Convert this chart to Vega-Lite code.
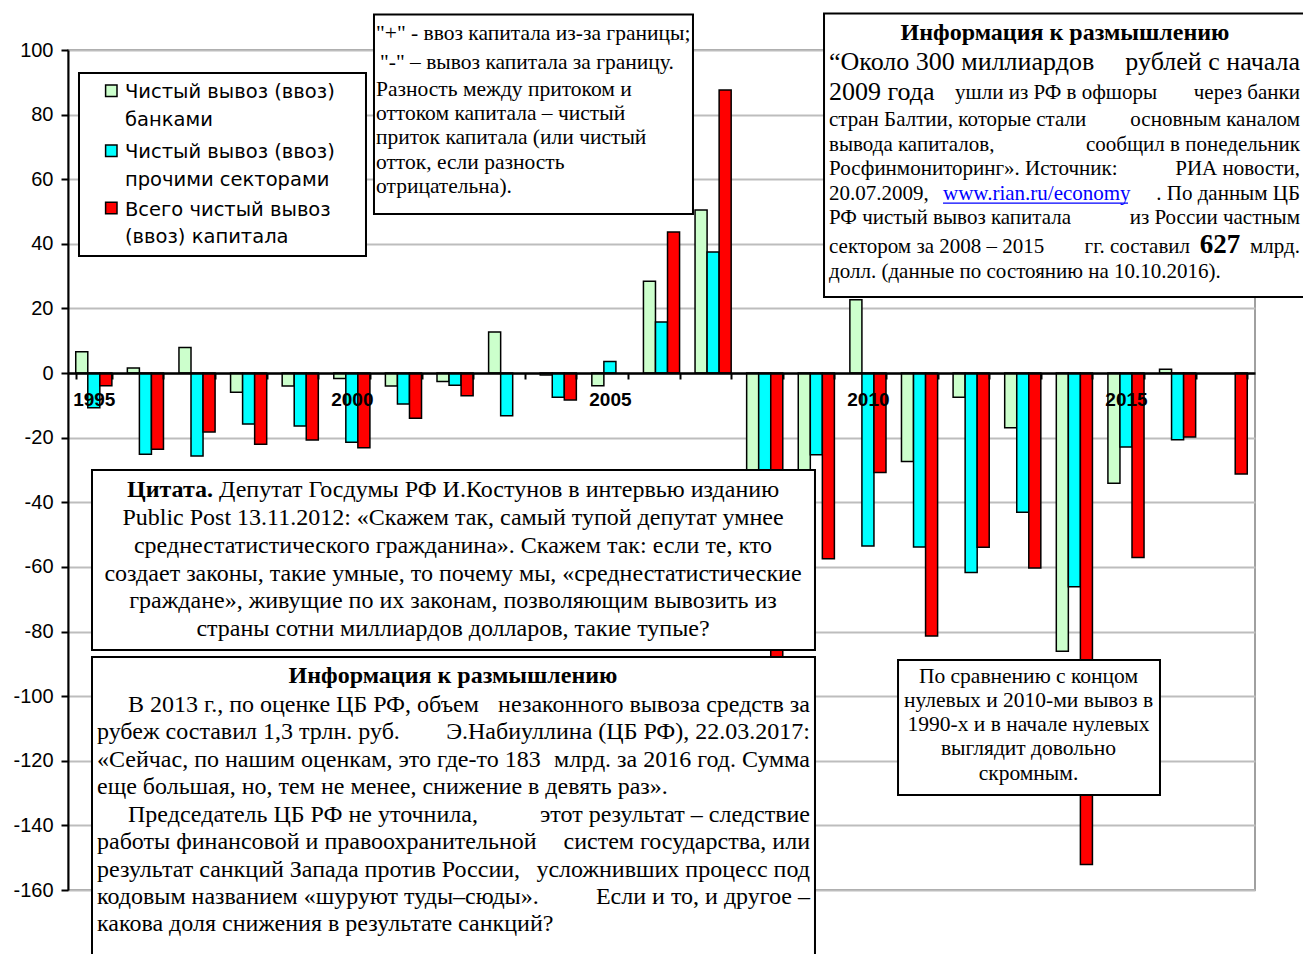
{
  "$schema": "https://vega.github.io/schema/vega-lite/v6.json",
  "width": 1187,
  "height": 840,
  "autosize": {"type": "none"},
  "padding": {"left": 68, "top": 50, "right": 48, "bottom": 64},
  "background": "white",
  "config": {"view": {"stroke": "#a0a0a0", "strokeWidth": 2}},
  "layer": [
    {
      "data": {"values": [
        {"year": 1995, "series": "banks", "value": 6.6}, {"year": 1995, "series": "others", "value": -10.7}, {"year": 1995, "series": "total", "value": -3.9},
        {"year": 1996, "series": "banks", "value": 1.6}, {"year": 1996, "series": "others", "value": -25.1}, {"year": 1996, "series": "total", "value": -23.6},
        {"year": 1997, "series": "banks", "value": 7.9}, {"year": 1997, "series": "others", "value": -25.7}, {"year": 1997, "series": "total", "value": -18.2},
        {"year": 1998, "series": "banks", "value": -5.9}, {"year": 1998, "series": "others", "value": -15.8}, {"year": 1998, "series": "total", "value": -22.0},
        {"year": 1999, "series": "banks", "value": -4.0}, {"year": 1999, "series": "others", "value": -16.4}, {"year": 1999, "series": "total", "value": -20.7},
        {"year": 2000, "series": "banks", "value": -1.7}, {"year": 2000, "series": "others", "value": -21.4}, {"year": 2000, "series": "total", "value": -23.1},
        {"year": 2001, "series": "banks", "value": -4.0}, {"year": 2001, "series": "others", "value": -9.6}, {"year": 2001, "series": "total", "value": -14.0},
        {"year": 2002, "series": "banks", "value": -2.6}, {"year": 2002, "series": "others", "value": -3.8}, {"year": 2002, "series": "total", "value": -7.0},
        {"year": 2003, "series": "banks", "value": 12.7}, {"year": 2003, "series": "others", "value": -13.2},
        {"year": 2004, "series": "banks", "value": -0.6}, {"year": 2004, "series": "others", "value": -7.5}, {"year": 2004, "series": "total", "value": -8.3},
        {"year": 2005, "series": "banks", "value": -3.9}, {"year": 2005, "series": "others", "value": 3.6},
        {"year": 2006, "series": "banks", "value": 28.4}, {"year": 2006, "series": "others", "value": 15.8}, {"year": 2006, "series": "total", "value": 43.7},
        {"year": 2007, "series": "banks", "value": 50.5}, {"year": 2007, "series": "others", "value": 37.5}, {"year": 2007, "series": "total", "value": 87.6},
        {"year": 2008, "series": "banks", "value": -57.0}, {"year": 2008, "series": "others", "value": -77.0}, {"year": 2008, "series": "total", "value": -133.6},
        {"year": 2009, "series": "banks", "value": -32.2}, {"year": 2009, "series": "others", "value": -25.3}, {"year": 2009, "series": "total", "value": -57.5},
        {"year": 2010, "series": "banks", "value": 22.7}, {"year": 2010, "series": "others", "value": -53.5}, {"year": 2010, "series": "total", "value": -30.8},
        {"year": 2011, "series": "banks", "value": -27.4}, {"year": 2011, "series": "others", "value": -53.8}, {"year": 2011, "series": "total", "value": -81.4},
        {"year": 2012, "series": "banks", "value": -7.5}, {"year": 2012, "series": "others", "value": -61.7}, {"year": 2012, "series": "total", "value": -53.9},
        {"year": 2013, "series": "banks", "value": -16.9}, {"year": 2013, "series": "others", "value": -43.1}, {"year": 2013, "series": "total", "value": -60.3},
        {"year": 2014, "series": "banks", "value": -86.1}, {"year": 2014, "series": "others", "value": -66.1}, {"year": 2014, "series": "total", "value": -152.1},
        {"year": 2015, "series": "banks", "value": -34.1}, {"year": 2015, "series": "others", "value": -22.9}, {"year": 2015, "series": "total", "value": -57.1},
        {"year": 2016, "series": "banks", "value": 1.2}, {"year": 2016, "series": "others", "value": -20.6}, {"year": 2016, "series": "total", "value": -19.8},
        {"year": 2017, "series": "total", "value": -31.2}
      ]},
      "mark": {"type": "bar", "stroke": "black", "strokeWidth": 1.5},
      "encoding": {
        "x": {"field": "year", "type": "ordinal", "scale": {"paddingInner": 0.3, "paddingOuter": 0.15},
          "axis": {"orient": "bottom", "offset": -517, "title": null, "grid": false, "domainColor": "black", "domainWidth": 2.5,
            "tickColor": "black", "tickWidth": 2, "tickSize": 6, "tickBand": "extent",
            "labelFont": "Liberation Sans", "labelFontWeight": "bold", "labelFontSize": 19, "labelColor": "black",
            "labelPadding": 11, "labelAngle": 0, "labelOverlap": false,
            "labelExpr": "datum.value % 5 == 0 ? '' + datum.value : ''", "zindex": 1}},
        "xOffset": {"field": "series", "type": "nominal", "scale": {"domain": ["banks", "others", "total"], "paddingInner": 0, "paddingOuter": 0}},
        "y": {"field": "value", "type": "quantitative", "scale": {"domain": [-160, 100], "nice": false},
          "axis": {"title": null, "values": [-160, -150, -140, -130, -120, -110, -100, -90, -80, -70, -60, -50, -40, -30, -20, -10, 0, 10, 20, 30, 40, 50, 60, 70, 80, 90, 100],
            "labelExpr": "datum.value % 20 == 0 ? '' + datum.value : ''",
            "grid": true, "gridColor": "#bdbdbd", "gridWidth": 2,
            "domainColor": "black", "domainWidth": 2, "tickColor": "black", "tickWidth": 2, "tickSize": 7,
            "labelFont": "Liberation Sans", "labelFontSize": 20, "labelColor": "black", "labelPadding": 8}},
        "color": {"field": "series", "type": "nominal", "scale": {"domain": ["banks", "others", "total"], "range": ["#ccffcc", "#00ffff", "#ff0000"]}, "legend": null}
      }
    },
    {
      "data": {"values": [{}]},
      "layer": [
        {"mark": {"type": "rect", "fill": "white", "stroke": "black", "strokeWidth": 2},
         "encoding": {"x": {"datum": 1994.713, "type": "quantitative", "scale": {"domain": [1994.5, 2017.5], "nice": false, "zero": false}, "axis": null},
           "x2": {"datum": 2000.274}, "y": {"datum": 92.88, "type": "quantitative", "scale": {"domain": [-160, 100], "nice": false}, "title": null}, "y2": {"datum": 36.24}}},
        {"mark": {"type": "point", "shape": "square", "filled": true, "fill": "#ccffcc", "stroke": "black", "strokeWidth": 1.5, "size": 130, "opacity": 1},
         "encoding": {"x": {"datum": 1995.339, "type": "quantitative", "scale": {"domain": [1994.5, 2017.5], "nice": false, "zero": false}, "axis": null},
           "y": {"datum": 87.37, "type": "quantitative", "scale": {"domain": [-160, 100], "nice": false}, "title": null}}},
        {"mark": {"type": "point", "shape": "square", "filled": true, "fill": "#00ffff", "stroke": "black", "strokeWidth": 1.5, "size": 130, "opacity": 1},
         "encoding": {"x": {"datum": 1995.339, "type": "quantitative", "scale": {"domain": [1994.5, 2017.5], "nice": false, "zero": false}, "axis": null},
           "y": {"datum": 68.80, "type": "quantitative", "scale": {"domain": [-160, 100], "nice": false}, "title": null}}},
        {"mark": {"type": "point", "shape": "square", "filled": true, "fill": "#ff0000", "stroke": "black", "strokeWidth": 1.5, "size": 130, "opacity": 1},
         "encoding": {"x": {"datum": 1995.339, "type": "quantitative", "scale": {"domain": [1994.5, 2017.5], "nice": false, "zero": false}, "axis": null},
           "y": {"datum": 51.10, "type": "quantitative", "scale": {"domain": [-160, 100], "nice": false}, "title": null}}},
        {"mark": {"type": "text", "text": ["Чистый вывоз (ввоз)", "банками"],
           "font": "DejaVu Sans", "fontSize": 19.5, "lineHeight": 28.5, "align": "left", "baseline": "middle", "color": "black"},
         "encoding": {"x": {"datum": 1995.604, "type": "quantitative", "scale": {"domain": [1994.5, 2017.5], "nice": false, "zero": false}, "axis": null},
           "y": {"datum": 87.09, "type": "quantitative", "scale": {"domain": [-160, 100], "nice": false}, "title": null}}},
        {"mark": {"type": "text", "text": ["Чистый вывоз (ввоз)", "прочими секторами"],
           "font": "DejaVu Sans", "fontSize": 19.5, "lineHeight": 28.5, "align": "left", "baseline": "middle", "color": "black"},
         "encoding": {"x": {"datum": 1995.604, "type": "quantitative", "scale": {"domain": [1994.5, 2017.5], "nice": false, "zero": false}, "axis": null},
           "y": {"datum": 68.52, "type": "quantitative", "scale": {"domain": [-160, 100], "nice": false}, "title": null}}},
        {"mark": {"type": "text", "text": ["Всего чистый вывоз", "(ввоз) капитала"],
           "font": "DejaVu Sans", "fontSize": 19.5, "lineHeight": 27.5, "align": "left", "baseline": "middle", "color": "black"},
         "encoding": {"x": {"datum": 1995.604, "type": "quantitative", "scale": {"domain": [1994.5, 2017.5], "nice": false, "zero": false}, "axis": null},
           "y": {"datum": 50.48, "type": "quantitative", "scale": {"domain": [-160, 100], "nice": false}, "title": null}}},

        {"mark": {"type": "rect", "fill": "white", "stroke": "black", "strokeWidth": 2},
         "encoding": {"x": {"datum": 2000.429, "type": "quantitative", "scale": {"domain": [1994.5, 2017.5], "nice": false, "zero": false}, "axis": null},
           "x2": {"datum": 2006.610}, "y": {"datum": 110.99, "type": "quantitative", "scale": {"domain": [-160, 100], "nice": false}, "title": null}, "y2": {"datum": 49.24}}},
        {"mark": {"type": "text", "text": "\"+\" - ввоз капитала из-за границы;",
           "font": "Liberation Serif", "fontSize": 21.5, "align": "left", "baseline": "middle", "color": "black"},
         "encoding": {"x": {"datum": 2000.468, "type": "quantitative", "scale": {"domain": [1994.5, 2017.5], "nice": false, "zero": false}, "axis": null},
           "y": {"datum": 104.95, "type": "quantitative", "scale": {"domain": [-160, 100], "nice": false}, "title": null}}},
        {"mark": {"type": "text", "text": "\"-\" – вывоз капитала за границу.",
           "font": "Liberation Serif", "fontSize": 21.5, "align": "left", "baseline": "middle", "color": "black"},
         "encoding": {"x": {"datum": 2000.545, "type": "quantitative", "scale": {"domain": [1994.5, 2017.5], "nice": false, "zero": false}, "axis": null},
           "y": {"datum": 95.98, "type": "quantitative", "scale": {"domain": [-160, 100], "nice": false}, "title": null}}},
        {"mark": {"type": "text", "text": ["Разность между притоком и", "оттоком капитала – чистый", "приток капитала (или чистый", "отток, если разность", "отрицательна)."],
           "font": "Liberation Serif", "fontSize": 21.5, "lineHeight": 24.1, "align": "left", "baseline": "middle", "color": "black"},
         "encoding": {"x": {"datum": 2000.468, "type": "quantitative", "scale": {"domain": [1994.5, 2017.5], "nice": false, "zero": false}, "axis": null},
           "y": {"datum": 87.53, "type": "quantitative", "scale": {"domain": [-160, 100], "nice": false}, "title": null}}},

        {"mark": {"type": "rect", "fill": "white", "stroke": "black", "strokeWidth": 2},
         "encoding": {"x": {"datum": 2009.149, "type": "quantitative", "scale": {"domain": [1994.5, 2017.5], "nice": false, "zero": false}, "axis": null},
           "x2": {"datum": 2018.566}, "y": {"datum": 111.30, "type": "quantitative", "scale": {"domain": [-160, 100], "nice": false}, "title": null}, "y2": {"datum": 23.55}}},
        {"mark": {"type": "text", "text": "Информация к размышлению", "font": "Liberation Serif", "fontSize": 24, "fontWeight": "bold", "align": "center", "baseline": "middle", "color": "black"},
         "encoding": {"x": {"datum": 2013.818, "type": "quantitative", "scale": {"domain": [1994.5, 2017.5], "nice": false, "zero": false}, "axis": null},
           "y": {"datum": 105.35, "type": "quantitative", "scale": {"domain": [-160, 100], "nice": false}, "title": null}}},
        {"mark": {"type": "text", "text": "“Около 300 миллиардов", "font": "Liberation Serif", "fontSize": 26, "align": "left", "baseline": "middle", "color": "black"},
         "encoding": {"x": {"datum": 2009.246, "type": "quantitative", "scale": {"domain": [1994.5, 2017.5], "nice": false, "zero": false}, "axis": null},
           "y": {"datum": 96.38, "type": "quantitative", "scale": {"domain": [-160, 100], "nice": false}, "title": null}}},
        {"mark": {"type": "text", "text": "рублей с начала", "font": "Liberation Serif", "fontSize": 26, "align": "right", "baseline": "middle", "color": "black"},
         "encoding": {"x": {"datum": 2018.372, "type": "quantitative", "scale": {"domain": [1994.5, 2017.5], "nice": false, "zero": false}, "axis": null},
           "y": {"datum": 96.38, "type": "quantitative", "scale": {"domain": [-160, 100], "nice": false}, "title": null}}},
        {"mark": {"type": "text", "text": "2009 года", "font": "Liberation Serif", "fontSize": 26, "align": "left", "baseline": "middle", "color": "black"},
         "encoding": {"x": {"datum": 2009.246, "type": "quantitative", "scale": {"domain": [1994.5, 2017.5], "nice": false, "zero": false}, "axis": null},
           "y": {"datum": 87.09, "type": "quantitative", "scale": {"domain": [-160, 100], "nice": false}, "title": null}}},
        {"mark": {"type": "text", "text": "ушли из РФ в офшоры", "font": "Liberation Serif", "fontSize": 21, "align": "left", "baseline": "middle", "color": "black"},
         "encoding": {"x": {"datum": 2011.687, "type": "quantitative", "scale": {"domain": [1994.5, 2017.5], "nice": false, "zero": false}, "axis": null},
           "y": {"datum": 86.6, "type": "quantitative", "scale": {"domain": [-160, 100], "nice": false}, "title": null}}},
        {"mark": {"type": "text", "text": "через банки", "font": "Liberation Serif", "fontSize": 21, "align": "right", "baseline": "middle", "color": "black"},
         "encoding": {"x": {"datum": 2018.372, "type": "quantitative", "scale": {"domain": [1994.5, 2017.5], "nice": false, "zero": false}, "axis": null},
           "y": {"datum": 86.6, "type": "quantitative", "scale": {"domain": [-160, 100], "nice": false}, "title": null}}},
        {"mark": {"type": "text", "text": ["стран Балтии, которые стали", "вывода капиталов,", "Росфинмониторинг». Источник:", "20.07.2009,", "РФ чистый вывоз капитала"],
           "font": "Liberation Serif", "fontSize": 21, "lineHeight": 24.6, "align": "left", "baseline": "middle", "color": "black"},
         "encoding": {"x": {"datum": 2009.246, "type": "quantitative", "scale": {"domain": [1994.5, 2017.5], "nice": false, "zero": false}, "axis": null},
           "y": {"datum": 78.33, "type": "quantitative", "scale": {"domain": [-160, 100], "nice": false}, "title": null}}},
        {"mark": {"type": "text", "text": ["основным каналом", "сообщил в понедельник", "РИА новости,", ". По данным ЦБ", "из России частным"],
           "font": "Liberation Serif", "fontSize": 21, "lineHeight": 24.6, "align": "right", "baseline": "middle", "color": "black"},
         "encoding": {"x": {"datum": 2018.372, "type": "quantitative", "scale": {"domain": [1994.5, 2017.5], "nice": false, "zero": false}, "axis": null},
           "y": {"datum": 78.33, "type": "quantitative", "scale": {"domain": [-160, 100], "nice": false}, "title": null}}},
        {"mark": {"type": "text", "text": "www.rian.ru/economy", "font": "Liberation Serif", "fontSize": 21, "align": "left", "baseline": "middle", "color": "#0000ff"},
         "encoding": {"x": {"datum": 2011.455, "type": "quantitative", "scale": {"domain": [1994.5, 2017.5], "nice": false, "zero": false}, "axis": null},
           "y": {"datum": 55.49, "type": "quantitative", "scale": {"domain": [-160, 100], "nice": false}, "title": null}}},
        {"mark": {"type": "rule", "color": "#0000ff", "strokeWidth": 1.3},
         "encoding": {"x": {"datum": 2011.455, "type": "quantitative", "scale": {"domain": [1994.5, 2017.5], "nice": false, "zero": false}, "axis": null},
           "x2": {"datum": 2015.040}, "y": {"datum": 52.6, "type": "quantitative", "scale": {"domain": [-160, 100], "nice": false}, "title": null}}},
        {"mark": {"type": "text", "text": "сектором за 2008 – 2015", "font": "Liberation Serif", "fontSize": 21, "align": "left", "baseline": "middle", "color": "black"},
         "encoding": {"x": {"datum": 2009.246, "type": "quantitative", "scale": {"domain": [1994.5, 2017.5], "nice": false, "zero": false}, "axis": null},
           "y": {"datum": 39.12, "type": "quantitative", "scale": {"domain": [-160, 100], "nice": false}, "title": null}}},
        {"mark": {"type": "text", "text": "гг. составил", "font": "Liberation Serif", "fontSize": 21, "align": "right", "baseline": "middle", "color": "black"},
         "encoding": {"x": {"datum": 2016.241, "type": "quantitative", "scale": {"domain": [1994.5, 2017.5], "nice": false, "zero": false}, "axis": null},
           "y": {"datum": 39.12, "type": "quantitative", "scale": {"domain": [-160, 100], "nice": false}, "title": null}}},
        {"mark": {"type": "text", "text": "627", "font": "Liberation Serif", "fontSize": 27, "fontWeight": "bold", "align": "center", "baseline": "middle", "color": "black"},
         "encoding": {"x": {"datum": 2016.822, "type": "quantitative", "scale": {"domain": [1994.5, 2017.5], "nice": false, "zero": false}, "axis": null},
           "y": {"datum": 39.6, "type": "quantitative", "scale": {"domain": [-160, 100], "nice": false}, "title": null}}},
        {"mark": {"type": "text", "text": "млрд.", "font": "Liberation Serif", "fontSize": 21, "align": "right", "baseline": "middle", "color": "black"},
         "encoding": {"x": {"datum": 2018.372, "type": "quantitative", "scale": {"domain": [1994.5, 2017.5], "nice": false, "zero": false}, "axis": null},
           "y": {"datum": 39.12, "type": "quantitative", "scale": {"domain": [-160, 100], "nice": false}, "title": null}}},
        {"mark": {"type": "text", "text": "долл. (данные по состоянию на 10.10.2016).", "font": "Liberation Serif", "fontSize": 21, "align": "left", "baseline": "middle", "color": "black"},
         "encoding": {"x": {"datum": 2009.246, "type": "quantitative", "scale": {"domain": [1994.5, 2017.5], "nice": false, "zero": false}, "axis": null},
           "y": {"datum": 31.38, "type": "quantitative", "scale": {"domain": [-160, 100], "nice": false}, "title": null}}},

        {"mark": {"type": "rect", "fill": "white", "stroke": "black", "strokeWidth": 2},
         "encoding": {"x": {"datum": 1994.965, "type": "quantitative", "scale": {"domain": [1994.5, 2017.5], "nice": false, "zero": false}, "axis": null},
           "x2": {"datum": 2008.974}, "y": {"datum": -30.0, "type": "quantitative", "scale": {"domain": [-160, 100], "nice": false}, "title": null}, "y2": {"datum": -85.71}}},
        {"mark": {"type": "text", "text": "Цитата.", "font": "Liberation Serif", "fontSize": 24, "fontWeight": "bold", "align": "left", "baseline": "middle", "color": "black"},
         "encoding": {"x": {"datum": 1995.643, "type": "quantitative", "scale": {"domain": [1994.5, 2017.5], "nice": false, "zero": false}, "axis": null},
           "y": {"datum": -36.19, "type": "quantitative", "scale": {"domain": [-160, 100], "nice": false}, "title": null}}},
        {"mark": {"type": "text", "text": "Депутат Госдумы РФ И.Костунов в интервью изданию", "font": "Liberation Serif", "fontSize": 24, "align": "left", "baseline": "middle", "color": "black"},
         "encoding": {"x": {"datum": 1997.426, "type": "quantitative", "scale": {"domain": [1994.5, 2017.5], "nice": false, "zero": false}, "axis": null},
           "y": {"datum": -36.19, "type": "quantitative", "scale": {"domain": [-160, 100], "nice": false}, "title": null}}},
        {"mark": {"type": "text", "text": ["Public Post 13.11.2012: «Скажем так, самый тупой депутат умнее", "среднестатистического гражданина». Скажем так: если те, кто", "создает законы, такие умные, то почему мы, «среднестатистические", "граждане», живущие по их законам, позволяющим вывозить из", "страны сотни миллиардов долларов, такие тупые?"],
           "font": "Liberation Serif", "fontSize": 24, "lineHeight": 27.8, "align": "center", "baseline": "middle", "color": "black"},
         "encoding": {"x": {"datum": 2001.960, "type": "quantitative", "scale": {"domain": [1994.5, 2017.5], "nice": false, "zero": false}, "axis": null},
           "y": {"datum": -44.86, "type": "quantitative", "scale": {"domain": [-160, 100], "nice": false}, "title": null}}},

        {"mark": {"type": "rect", "fill": "white", "stroke": "black", "strokeWidth": 2},
         "encoding": {"x": {"datum": 1994.965, "type": "quantitative", "scale": {"domain": [1994.5, 2017.5], "nice": false, "zero": false}, "axis": null},
           "x2": {"datum": 2008.974}, "y": {"datum": -87.88, "type": "quantitative", "scale": {"domain": [-160, 100], "nice": false}, "title": null}, "y2": {"datum": -184.76}}},
        {"mark": {"type": "text", "text": "Информация к размышлению", "font": "Liberation Serif", "fontSize": 24, "fontWeight": "bold", "align": "center", "baseline": "middle", "color": "black"},
         "encoding": {"x": {"datum": 2001.960, "type": "quantitative", "scale": {"domain": [1994.5, 2017.5], "nice": false, "zero": false}, "axis": null},
           "y": {"datum": -93.76, "type": "quantitative", "scale": {"domain": [-160, 100], "nice": false}, "title": null}}},
        {"mark": {"type": "text", "text": "В 2013 г., по оценке ЦБ РФ, объем", "font": "Liberation Serif", "fontSize": 24, "align": "left", "baseline": "middle", "color": "black"},
         "encoding": {"x": {"datum": 1995.663, "type": "quantitative", "scale": {"domain": [1994.5, 2017.5], "nice": false, "zero": false}, "axis": null},
           "y": {"datum": -102.74, "type": "quantitative", "scale": {"domain": [-160, 100], "nice": false}, "title": null}}},
        {"mark": {"type": "text", "text": "Председатель ЦБ РФ не уточнила,", "font": "Liberation Serif", "fontSize": 24, "align": "left", "baseline": "middle", "color": "black"},
         "encoding": {"x": {"datum": 1995.663, "type": "quantitative", "scale": {"domain": [1994.5, 2017.5], "nice": false, "zero": false}, "axis": null},
           "y": {"datum": -136.69, "type": "quantitative", "scale": {"domain": [-160, 100], "nice": false}, "title": null}}},
        {"mark": {"type": "text", "text": ["рубеж составил 1,3 трлн. руб.", "«Сейчас, по нашим оценкам, это где-то 183", "еще большая, но, тем не менее, снижение в девять раз»."],
           "font": "Liberation Serif", "fontSize": 24, "lineHeight": 27.43, "align": "left", "baseline": "middle", "color": "black"},
         "encoding": {"x": {"datum": 1995.062, "type": "quantitative", "scale": {"domain": [1994.5, 2017.5], "nice": false, "zero": false}, "axis": null},
           "y": {"datum": -111.22, "type": "quantitative", "scale": {"domain": [-160, 100], "nice": false}, "title": null}}},
        {"mark": {"type": "text", "text": ["работы финансовой и правоохранительной", "результат санкций Запада против России,", "кодовым названием «шуруют туды–сюды».", "какова доля снижения в результате санкций?"],
           "font": "Liberation Serif", "fontSize": 24, "lineHeight": 27.43, "align": "left", "baseline": "middle", "color": "black"},
         "encoding": {"x": {"datum": 1995.062, "type": "quantitative", "scale": {"domain": [1994.5, 2017.5], "nice": false, "zero": false}, "axis": null},
           "y": {"datum": -145.17, "type": "quantitative", "scale": {"domain": [-160, 100], "nice": false}, "title": null}}},
        {"mark": {"type": "text", "text": ["незаконного вывоза средств за", "Э.Набиуллина (ЦБ РФ), 22.03.2017:", "млрд. за 2016 год. Сумма"],
           "font": "Liberation Serif", "fontSize": 24, "lineHeight": 27.43, "align": "right", "baseline": "middle", "color": "black"},
         "encoding": {"x": {"datum": 2008.877, "type": "quantitative", "scale": {"domain": [1994.5, 2017.5], "nice": false, "zero": false}, "axis": null},
           "y": {"datum": -102.74, "type": "quantitative", "scale": {"domain": [-160, 100], "nice": false}, "title": null}}},
        {"mark": {"type": "text", "text": ["этот результат – следствие", "систем государства, или", "усложнивших процесс под", "Если и то, и другое –"],
           "font": "Liberation Serif", "fontSize": 24, "lineHeight": 27.43, "align": "right", "baseline": "middle", "color": "black"},
         "encoding": {"x": {"datum": 2008.877, "type": "quantitative", "scale": {"domain": [1994.5, 2017.5], "nice": false, "zero": false}, "axis": null},
           "y": {"datum": -136.69, "type": "quantitative", "scale": {"domain": [-160, 100], "nice": false}, "title": null}}},

        {"mark": {"type": "rect", "fill": "white", "stroke": "black", "strokeWidth": 2},
         "encoding": {"x": {"datum": 2010.583, "type": "quantitative", "scale": {"domain": [1994.5, 2017.5], "nice": false, "zero": false}, "axis": null},
           "x2": {"datum": 2015.659}, "y": {"datum": -88.81, "type": "quantitative", "scale": {"domain": [-160, 100], "nice": false}, "title": null}, "y2": {"datum": -130.6}}},
        {"mark": {"type": "text", "text": ["По сравнению с концом", "нулевых и 2010-ми вывоз в", "1990-х и в начале нулевых", "выглядит довольно", "скромным."],
           "font": "Liberation Serif", "fontSize": 21.5, "lineHeight": 24.2, "align": "center", "baseline": "middle", "color": "black"},
         "encoding": {"x": {"datum": 2013.111, "type": "quantitative", "scale": {"domain": [1994.5, 2017.5], "nice": false, "zero": false}, "axis": null},
           "y": {"datum": -93.98, "type": "quantitative", "scale": {"domain": [-160, 100], "nice": false}, "title": null}}}
      ]
    }
  ],
  "resolve": {"scale": {"x": "independent"}, "axis": {"x": "independent"}}
}
